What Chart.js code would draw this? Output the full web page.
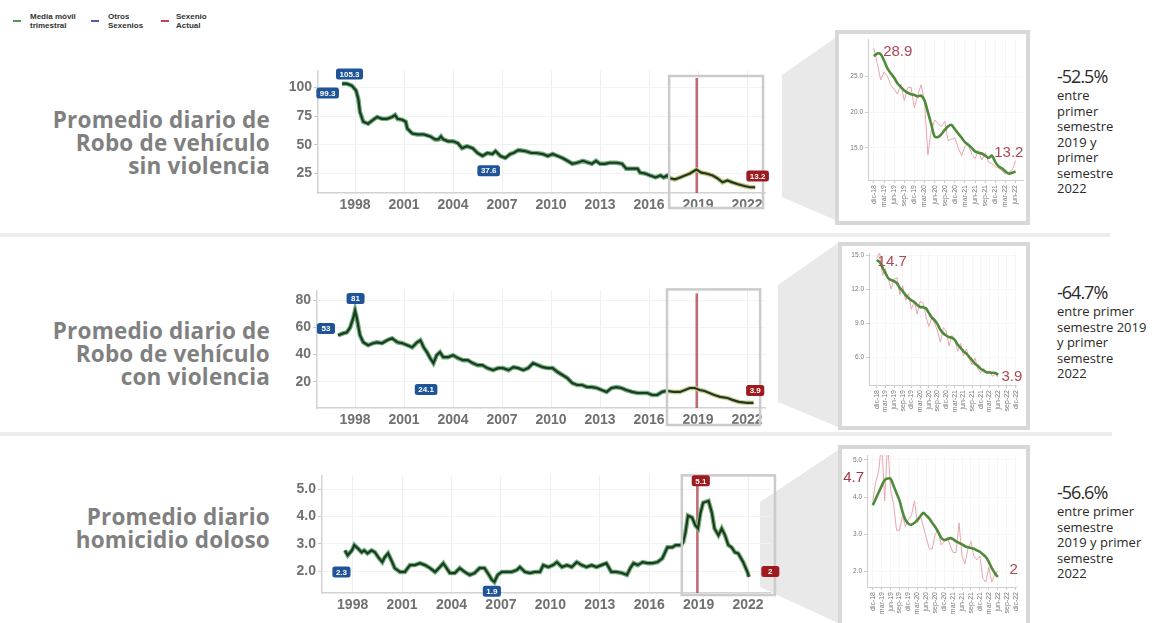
<!DOCTYPE html>
<html lang="es">
<head>
<meta charset="utf-8">
<script src="https://cdn.jsdelivr.net/npm/chart.js@4.4.1/dist/chart.umd.min.js"></script>
<style>
  html, body { margin: 0; padding: 0; background: #fff; }
  body { width: 1158px; height: 623px; position: relative; overflow: hidden; font-family: 'Liberation Sans', Arial, sans-serif; }
  .abs { position: absolute; }
  canvas { position: absolute; }
  .titulo { left: 0; width: 270px; text-align: right; font-family: 'Open Sans', sans-serif; font-weight: 700; font-size: 22.5px; line-height: 23px; color: #808080; letter-spacing: 0.2px; }
  .pct { left: 1057px; font-family: 'Open Sans', sans-serif; color: #2a2a2a; }
  .pct .num { font-size: 18px; line-height: 20px; letter-spacing: -1px; margin-bottom: 2px; }
  .pct .txt { font-size: 13px; line-height: 15.5px; }
  .sep { left: 0; height: 4px; background: #ececec; }
  .marco { border: 4px solid #d8d8d8; background: #fff; box-sizing: border-box; }
  .leyenda { top: 12px; left: 10px; font-size: 8px; font-weight: 700; line-height: 9px; color: #333; }
  .leyenda span.item { position: absolute; white-space: nowrap; }
  .leyenda i { position: absolute; width: 8px; height: 2px; top: 8px; }
</style>
</head>
<body>

<svg class="abs" style="left:0;top:0" width="1158" height="623">
  <polygon points="782,75 835,38 835,220 782,197" fill="#e9e9e9"/>
  <polygon points="778,285 838,243 838,427 778,402" fill="#e9e9e9"/>
  <polygon points="760,502 838,450 838,623 760,587" fill="#e9e9e9"/>
</svg>

<div class="abs sep" style="top:233px;width:1110px"></div>
<div class="abs sep" style="top:432px;width:1112px"></div>

<div class="abs leyenda">
  <span class="item" style="left:0"><i style="left:3px;background:#4c9a55"></i><span style="position:absolute;left:20px;top:0">Media móvil<br>trimestral</span></span>
  <span class="item" style="left:78px"><i style="left:3px;background:#4a5fb0"></i><span style="position:absolute;left:20px;top:0">Otros<br>Sexenios</span></span>
  <span class="item" style="left:148px"><i style="left:3px;background:#c0464f"></i><span style="position:absolute;left:18px;top:0">Sexenio<br>Actual</span></span>
</div>

<div class="abs titulo" style="top:108px">Promedio diario de<br>Robo de vehículo<br>sin violencia</div>
<div class="abs titulo" style="top:319px">Promedio diario de<br>Robo de vehículo<br>con violencia</div>
<div class="abs titulo" style="top:505px">Promedio diario<br>homicidio doloso</div>

<div class="abs pct" style="top:66px"><div class="num">-52.5%</div><div class="txt">entre<br>primer<br>semestre<br>2019 y<br>primer<br>semestre<br>2022</div></div>
<div class="abs pct" style="top:282px"><div class="num">-64.7%</div><div class="txt">entre primer<br>semestre 2019<br>y primer<br>semestre<br>2022</div></div>
<div class="abs pct" style="top:482px"><div class="num">-56.6%</div><div class="txt">entre primer<br>semestre<br>2019 y primer<br>semestre<br>2022</div></div>

<div class="abs marco" style="left:835px;top:30px;width:195px;height:195px"></div>
<div class="abs marco" style="left:838px;top:242px;width:192px;height:188px"></div>
<div class="abs marco" style="left:838px;top:445px;width:192px;height:200px"></div>

<canvas id="main1" style="left:270px;top:60px" width="500" height="160"></canvas>
<canvas id="main2" style="left:270px;top:280px" width="500" height="150"></canvas>
<canvas id="main3" style="left:270px;top:465px" width="520" height="155"></canvas>

<canvas id="zoom1" style="left:839px;top:34px" width="187" height="187"></canvas>
<canvas id="zoom2" style="left:842px;top:246px" width="184" height="180"></canvas>
<canvas id="zoom3" style="left:842px;top:449px" width="184" height="174"></canvas>

<script>
(() => {
  'use strict'

  // --- ejes ---
  const aniosEje = [1998, 2001, 2004, 2007, 2010, 2013, 2016, 2019, 2022];
  const yEje1 = [25, 50, 75, 100];
  const yEje2 = [20, 40, 60, 80];
  const yEje3 = [2, 3, 4, 5];
  const mesesEje = ['dic-18', 'mar-19', 'jun-19', 'sep-19', 'dic-19', 'mar-20', 'jun-20', 'sep-20',
    'dic-20', 'mar-21', 'jun-21', 'sep-21', 'dic-21', 'mar-22', 'jun-22', 'sep-22', 'dic-22'];
  const yZoom1 = [15, 20, 25];
  const yZoom2 = [6, 9, 12, 15];
  const yZoom3 = [2, 3, 4, 5];

  const inicioSexenio = 2018.92;

  // --- media movil trimestral, [año, valor] ---
  const roboSinViolencia = [[1997.2,103.4],[1997.5,103.4],[1997.8,101.7],[1998.06,97.4],[1998.2,89.8],[1998.3,78.7],[1998.5,70.2],[1998.8,68.5],[1999.1,71.9],[1999.35,74.4],[1999.65,72.7],[1999.96,72.7],[2000.27,74.4],[2000.45,76.1],[2000.6,72.7],[2000.9,71.9],[2001.1,70.2],[2001.2,64.2],[2001.5,59.9],[2001.8,59.1],[2002.2,59.1],[2002.6,57.4],[2002.9,54.8],[2003.1,54.8],[2003.26,57.4],[2003.4,54.8],[2003.7,53.1],[2004.0,53.1],[2004.3,51.4],[2004.55,47.1],[2004.85,48.8],[2005.2,47.1],[2005.5,42.9],[2005.8,40.3],[2006.1,42.9],[2006.4,42.0],[2006.6,44.6],[2006.9,40.3],[2007.2,38.6],[2007.5,42.0],[2007.7,42.9],[2008.0,45.4],[2008.4,44.6],[2008.8,42.9],[2009.1,42.9],[2009.5,42.0],[2009.8,40.3],[2010.1,42.0],[2010.4,40.3],[2010.7,38.6],[2011.0,36.1],[2011.3,33.5],[2011.6,34.4],[2011.95,36.1],[2012.3,34.4],[2012.5,33.5],[2012.75,36.1],[2013.0,33.5],[2013.3,33.5],[2013.6,34.4],[2014.0,34.4],[2014.35,33.5],[2014.6,29.2],[2014.96,29.2],[2015.3,29.2],[2015.45,25.8],[2015.76,25.0],[2016.06,23.3],[2016.4,21.6],[2016.7,23.3],[2016.9,21.6],[2017.1,23.3],[2017.3,20.7],[2017.6,19.9],[2017.9,21.6],[2018.2,23.3],[2018.5,25.0],[2018.9,28.4],[2019.2,25.8],[2019.5,25.0],[2019.9,23.3],[2020.2,20.7],[2020.5,17.3],[2020.8,19.0],[2021.1,17.3],[2021.45,15.6],[2021.9,13.9],[2022.2,13.0],[2022.5,13.0]];

  const roboConViolencia = [[1996.96,54.3],[1997.27,55.7],[1997.5,56.5],[1997.7,60.1],[1997.9,67.5],[1998.0,72.6],[1998.1,67.5],[1998.3,54.3],[1998.5,49.1],[1998.8,46.9],[1999.1,48.4],[1999.35,49.1],[1999.65,48.4],[1999.96,50.6],[2000.27,52.1],[2000.6,49.1],[2000.9,48.4],[2001.2,46.9],[2001.5,45.4],[2001.8,49.1],[2002.0,50.6],[2002.2,45.4],[2002.4,41.8],[2002.6,37.4],[2002.8,33.7],[2003.0,39.6],[2003.2,41.8],[2003.4,38.1],[2003.7,38.1],[2004.0,39.6],[2004.3,37.4],[2004.6,35.9],[2004.9,35.9],[2005.2,33.7],[2005.5,32.2],[2005.8,32.2],[2006.1,30.0],[2006.45,28.5],[2006.76,30.0],[2007.06,30.0],[2007.4,28.5],[2007.7,30.7],[2008.0,30.0],[2008.3,28.5],[2008.6,30.0],[2008.9,33.7],[2009.2,32.2],[2009.5,30.7],[2009.8,30.0],[2010.1,30.0],[2010.4,27.1],[2010.7,24.9],[2011.0,22.6],[2011.3,19.0],[2011.6,17.5],[2011.9,17.5],[2012.2,16.0],[2012.5,16.0],[2012.8,15.3],[2013.1,13.8],[2013.4,12.4],[2013.7,15.3],[2014.0,16.0],[2014.3,15.3],[2014.6,13.8],[2014.96,12.4],[2015.3,11.6],[2015.6,11.6],[2015.9,11.6],[2016.2,10.1],[2016.5,10.1],[2016.8,12.4],[2017.1,13.1],[2017.5,12.4],[2017.9,12.4],[2018.2,13.8],[2018.5,15.3],[2018.8,15.3],[2019.1,13.8],[2019.4,13.1],[2019.7,11.6],[2020.0,10.1],[2020.35,8.7],[2020.8,7.9],[2021.1,6.5],[2021.5,5.0],[2022.0,4.3],[2022.4,4.3]];

  const homicidioDoloso = [[1997.53,2.76],[1997.7,2.58],[1997.96,2.76],[1998.1,2.95],[1998.3,2.84],[1998.55,2.69],[1998.7,2.76],[1998.9,2.65],[1999.15,2.76],[1999.35,2.69],[1999.55,2.51],[1999.8,2.33],[1999.95,2.51],[2000.15,2.65],[2000.4,2.33],[2000.55,2.11],[2000.87,1.97],[2001.17,1.97],[2001.48,2.22],[2001.78,2.22],[2002.08,2.29],[2002.39,2.22],[2002.7,2.11],[2003.0,1.97],[2003.3,2.15],[2003.5,2.29],[2003.7,2.11],[2003.9,1.93],[2004.2,1.93],[2004.5,2.11],[2004.8,1.97],[2005.1,1.86],[2005.4,1.93],[2005.7,2.11],[2006.0,2.11],[2006.2,1.93],[2006.45,1.68],[2006.6,1.6],[2006.8,1.86],[2007.05,1.97],[2007.35,1.97],[2007.65,1.97],[2007.96,2.04],[2008.15,2.15],[2008.46,1.97],[2008.76,1.93],[2009.06,1.97],[2009.37,1.97],[2009.57,2.22],[2009.87,2.15],[2010.17,2.22],[2010.4,2.33],[2010.7,2.15],[2011.0,2.22],[2011.3,2.15],[2011.6,2.33],[2011.9,2.22],[2012.2,2.15],[2012.5,2.22],[2012.8,2.15],[2013.1,2.22],[2013.4,2.29],[2013.7,1.97],[2014.0,1.97],[2014.35,1.93],[2014.65,1.86],[2014.85,2.11],[2015.05,2.29],[2015.3,2.22],[2015.6,2.33],[2015.9,2.29],[2016.2,2.29],[2016.5,2.33],[2016.8,2.47],[2017.1,2.87],[2017.4,2.87],[2017.6,2.95],[2017.9,2.95],[2018.05,3.02],[2018.2,3.42],[2018.35,4.03],[2018.6,3.96],[2018.8,3.67],[2018.96,3.56],[2019.1,4.1],[2019.27,4.5],[2019.6,4.57],[2019.8,4.14],[2019.96,3.56],[2020.2,3.31],[2020.4,3.56],[2020.6,3.31],[2020.8,2.95],[2021.0,2.87],[2021.2,2.69],[2021.4,2.65],[2021.7,2.33],[2021.96,1.97],[2022.05,1.79]];

  // --- acercamiento sexenio actual, mensual desde dic-18 ---
  const zoomSinViolenciaMedia = [27.8,28.2,28.1,27.2,26.1,25.4,24.8,24.0,23.5,23.0,22.7,22.5,22.4,22.2,22.3,21.6,20.0,18.3,16.6,16.5,16.9,17.5,18.0,18.2,17.6,17.0,16.4,15.8,15.4,15.0,14.5,14.3,14.2,13.9,13.6,13.9,13.0,12.4,12.1,11.7,11.4,11.5,11.7];
  const zoomSinViolenciaMes = [28.9,26.8,24.5,25.6,25.0,23.8,23.2,22.5,23.9,21.6,23.4,23.5,20.6,22.4,23.8,21.5,14.0,17.4,18.9,18.4,18.0,18.7,16.0,16.2,16.4,15.0,13.9,15.2,15.6,14.1,13.5,14.6,13.3,14.3,13.0,12.8,12.4,12.1,11.8,11.3,11.6,11.9,13.2];

  const zoomConViolenciaMedia = [14.56,14.38,13.9,13.4,12.95,12.8,12.7,12.5,12.1,11.8,11.47,11.2,11.0,10.85,10.6,10.41,10.4,10.3,9.9,9.5,9.26,8.9,8.4,8.1,7.9,7.76,7.7,7.5,7.1,6.8,6.5,6.3,6.0,5.7,5.4,5.2,4.95,4.8,4.66,4.63,4.61,4.59,4.45];
  const zoomConViolenciaMes = [14.7,15.2,13.2,13.8,12.9,12.0,12.9,13.0,11.5,12.3,11.0,11.6,10.2,10.9,9.8,10.9,10.8,9.6,8.7,9.4,9.0,8.3,7.3,8.6,8.3,7.0,7.9,7.6,6.5,7.2,6.1,6.7,5.8,5.3,5.9,4.9,4.6,5.0,4.5,4.8,4.3,4.5,4.2];

  const zoomHomicidioMedia = [3.78,3.95,4.13,4.3,4.46,4.5,4.49,4.3,4.1,3.9,3.6,3.38,3.28,3.25,3.3,3.38,3.48,3.57,3.5,3.42,3.3,3.19,3.05,2.9,2.84,2.86,2.89,2.86,2.8,2.76,2.72,2.67,2.64,2.62,2.6,2.56,2.52,2.45,2.38,2.25,2.08,1.95,1.84];
  const zoomHomicidioMes = [3.9,4.4,4.7,5.5,3.9,5.5,4.2,3.8,3.1,3.1,3.5,3.2,3.4,3.5,3.9,3.3,3.5,3.2,2.9,2.6,2.6,3.0,3.1,2.7,2.8,2.9,2.7,2.5,2.5,3.3,2.4,2.2,2.6,2.8,2.4,2.3,2.4,1.8,1.7,2.1,1.7,1.9,2.0];

  const AZUL = '#1f5598'
  const ROJO = '#9e1a1e'

  Chart.defaults.font.family = "'Liberation Sans', Arial, sans-serif";
  Chart.defaults.animation = false;

  // cajas de valores, linea roja del sexenio y recuadro de acercamiento
  const decorPlugin = {
    id: 'decor',
    beforeDatasetsDraw(chart, args, opts) {
      if (opts.sexenio == null) return;
      const { ctx, chartArea, scales: { x } } = chart;
      const px = x.getPixelForValue(opts.sexenio);
      ctx.save();
      ctx.strokeStyle = 'rgba(176,70,82,0.8)';
      ctx.lineWidth = 2.5;
      ctx.beginPath();
      ctx.moveTo(px, chartArea.top + opts.sexenioTop);
      ctx.lineTo(px, chartArea.bottom);
      ctx.stroke();
      ctx.restore();
    },
    afterDraw(chart, args, opts) {
      const { ctx, chartArea, scales: { x, y } } = chart;
      ctx.save();
      if (opts.caja) {
        const x0 = x.getPixelForValue(opts.caja.desde);
        const x1 = x.getPixelForValue(opts.caja.hasta);
        const y0 = chartArea.top + opts.caja.arriba;
        const y1 = chartArea.bottom + opts.caja.abajo;
        ctx.strokeStyle = '#cbcbcb';
        ctx.lineWidth = 2.5;
        ctx.strokeRect(x0, y0, x1 - x0, y1 - y0);
      }
      (opts.etiquetas || []).forEach(e => {
        const cx = x.getPixelForValue(e.x);
        const cy = y.getPixelForValue(e.y);
        if (e.caja) {
          ctx.font = 'bold 8px "Liberation Sans", Arial, sans-serif';
          const w = Math.max(ctx.measureText(e.texto).width + 7, 18);
          const h = 11;
          ctx.fillStyle = e.color;
          ctx.beginPath();
          ctx.roundRect(cx - w / 2, cy - h / 2, w, h, 2.5);
          ctx.fill();
          ctx.fillStyle = '#fff';
          ctx.textAlign = 'center';
          ctx.textBaseline = 'middle';
          ctx.fillText(e.texto, cx, cy + 0.5);
        } else {
          ctx.font = '15px "Liberation Sans", Arial, sans-serif';
          ctx.fillStyle = e.color;
          ctx.textAlign = 'center';
          ctx.textBaseline = 'middle';
          ctx.fillText(e.texto, cx, cy);
        }
      });
      ctx.restore();
    }
  };

  function fijarTicks(valores) {
    return scale => { scale.ticks = valores.map(v => ({ value: v })) }
  }

  function graficaPrincipal(id, serie, cfg) {
    const puntos = serie.map(([t, v]) => ({ x: t, y: v }));
    const corte = cfg.caja.desde;
    return new Chart(document.getElementById(id), {
      type: 'line',
      data: {
        datasets: [
          {
            // trazo oscuro, encima
            data: puntos.map(p => ({ ...p })),
            borderColor: '#1b3a22',
            borderWidth: 2.2,
            pointRadius: 0,
            tension: 0,
            order: 1
          },
          {
            // halo verde, debajo
            data: puntos.map(p => ({ ...p })),
            borderColor: '#6fae7a',
            borderWidth: 4.5,
            pointRadius: 0,
            tension: 0,
            order: 2,
            segment: {
              borderColor: c => (c.p0.parsed.x >= corte ? cfg.haloActual : '#6fae7a')
            }
          }
        ]
      },
      options: {
        responsive: false,
        layout: { padding: { top: cfg.padTop, right: cfg.padRight, left: 0, bottom: 0 } },
        plugins: {
          legend: { display: false },
          tooltip: { enabled: false },
          decor: {
            sexenio: inicioSexenio,
            sexenioTop: cfg.sexenioTop,
            caja: cfg.caja,
            etiquetas: cfg.etiquetas
          }
        },
        scales: {
          x: {
            type: 'linear',
            min: cfg.xMin,
            max: cfg.xMax,
            afterBuildTicks: fijarTicks(aniosEje),
            afterFit: s => { s.height = cfg.xAlto },
            ticks: {
              callback: v => String(v),
              color: '#707070',
              font: { size: 14, weight: 'bold' },
              padding: 4,
              maxRotation: 0,
              autoSkip: false
            },
            grid: { color: '#efefef', drawTicks: false },
            border: { color: '#d2d2d2', width: 1.5 }
          },
          y: {
            min: cfg.yMin,
            max: cfg.yMax,
            afterBuildTicks: fijarTicks(cfg.yTicks),
            afterFit: s => { s.width = cfg.yAncho },
            ticks: {
              callback: v => cfg.yFormato(v),
              color: '#707070',
              font: { size: 14, weight: 'bold' },
              padding: 2
            },
            grid: { color: '#f3f3f3', tickLength: 4, tickColor: '#c8c8c8' },
            border: { color: '#d2d2d2', width: 1.5 }
          }
        }
      },
      plugins: [decorPlugin]
    });
  }

  function graficaZoom(id, media, mensual, cfg) {
    const aPuntos = arr => arr.map((v, i) => ({ x: i, y: v }));
    return new Chart(document.getElementById(id), {
      type: 'line',
      data: {
        datasets: [
          {
            data: aPuntos(media),
            borderColor: '#4f8a3a',
            borderWidth: 2.6,
            pointRadius: 0,
            tension: 0.3,
            order: 1
          },
          {
            data: aPuntos(mensual),
            borderColor: '#e6a7ae',
            borderWidth: 1,
            pointRadius: 0,
            tension: 0,
            order: 2
          }
        ]
      },
      options: {
        responsive: false,
        layout: { padding: { top: cfg.padTop, right: cfg.padRight, left: 0, bottom: 0 } },
        plugins: {
          legend: { display: false },
          tooltip: { enabled: false },
          decor: { etiquetas: cfg.etiquetas }
        },
        scales: {
          x: {
            type: 'linear',
            min: cfg.xMin,
            max: cfg.xMax,
            afterBuildTicks: s => {
              s.ticks = mesesEje.map((m, k) => ({ value: k * 3 })).filter(t => t.value <= cfg.xMax)
            },
            afterFit: s => { s.height = cfg.xAlto },
            ticks: {
              callback: v => mesesEje[v / 3],
              color: '#777',
              font: { size: 7 },
              minRotation: 90,
              maxRotation: 90,
              autoSkip: false,
              padding: 2
            },
            grid: { color: '#f6f6f6', drawTicks: true, tickLength: 3, tickColor: '#ccc' },
            border: { color: '#cfcfcf' }
          },
          y: {
            min: cfg.yMin,
            max: cfg.yMax,
            afterBuildTicks: fijarTicks(cfg.yTicks),
            afterFit: s => { s.width = cfg.yAncho },
            ticks: {
              callback: v => v.toFixed(1),
              color: '#777',
              font: { size: 6.5 },
              padding: 2
            },
            grid: { color: '#f6f6f6', tickLength: 3, tickColor: '#ccc' },
            border: { color: '#cfcfcf' }
          }
        }
      },
      plugins: [decorPlugin]
    });
  }

  graficaPrincipal('main1', roboSinViolencia, {
    xMin: 1995.73, xMax: 2023.1, yMin: 8, yMax: 115,
    yTicks: yEje1, yFormato: v => String(v),
    yAncho: 48, xAlto: 27, padTop: 7.4, padRight: 5,
    sexenioTop: 7.6,
    haloActual: '#c7c27c',
    caja: { desde: 2017.23, hasta: 2022.98, arriba: 5.6, abajo: 15 },
    etiquetas: [
      { texto: '105.3', x: 1997.66, y: 111.9, color: AZUL, caja: true },
      { texto: '99.3', x: 1996.32, y: 95.3, color: AZUL, caja: true },
      { texto: '37.6', x: 2006.18, y: 27.5, color: AZUL, caja: true },
      { texto: '13.2', x: 2022.65, y: 22.8, color: ROJO, caja: true }
    ]
  });

  graficaPrincipal('main2', roboConViolencia, {
    xMin: 1995.67, xMax: 2023.1, yMin: 0.5, yMax: 87.5,
    yTicks: yEje2, yFormato: v => String(v),
    yAncho: 47, xAlto: 22, padTop: 9.8, padRight: 5,
    sexenioTop: 3,
    haloActual: '#cfc98a',
    caja: { desde: 2017.1, hasta: 2022.8, arriba: -1, abajo: 17 },
    etiquetas: [
      { texto: '81', x: 1998.03, y: 81.5, color: AZUL, caja: true },
      { texto: '53', x: 1996.22, y: 59.4, color: AZUL, caja: true },
      { texto: '24.1', x: 2002.35, y: 14.2, color: AZUL, caja: true },
      { texto: '3.9', x: 2022.5, y: 13.5, color: ROJO, caja: true }
    ]
  });

  graficaPrincipal('main3', homicidioDoloso, {
    xMin: 1996.14, xMax: 2023.33, yMin: 1.2, yMax: 5.5,
    yTicks: yEje3, yFormato: v => v.toFixed(1),
    yAncho: 52, xAlto: 27, padTop: 9.5, padRight: 20,
    sexenioTop: 5.5,
    haloActual: '#7fb37a',
    caja: { desde: 2017.98, hasta: 2023.63, arriba: 0, abajo: 2 },
    etiquetas: [
      { texto: '2.3', x: 1997.32, y: 1.97, color: AZUL, caja: true },
      { texto: '1.9', x: 2006.45, y: 1.26, color: AZUL, caja: true },
      { texto: '5.1', x: 2019.13, y: 5.3, color: ROJO, caja: true },
      { texto: '2', x: 2023.35, y: 1.99, color: ROJO, caja: true }
    ]
  });

  graficaZoom('zoom1', zoomSinViolenciaMedia, zoomSinViolenciaMes, {
    xMin: -1.76, xMax: 44.4, yMin: 10.5, yMax: 30.09,
    yTicks: yZoom1, yAncho: 29, xAlto: 41, padTop: 1, padRight: 1,
    etiquetas: [
      { texto: '28.9', x: 7.06, y: 28.47, color: '#ad4754' },
      { texto: '13.2', x: 40, y: 14.28, color: '#ad4754' }
    ]
  });

  graficaZoom('zoom2', zoomConViolenciaMedia, zoomConViolenciaMes, {
    xMin: -2.67, xMax: 48.33, yMin: 3.53, yMax: 15.18,
    yTicks: yZoom2, yAncho: 27, xAlto: 41, padTop: 7, padRight: 4,
    etiquetas: [
      { texto: '14.7', x: 5.33, y: 14.38, color: '#ad4754' },
      { texto: '3.9', x: 46.7, y: 4.23, color: '#ad4754' }
    ]
  });

  graficaZoom('zoom3', zoomHomicidioMedia, zoomHomicidioMes, {
    xMin: -1.94, xMax: 48.4, yMin: 1.568, yMax: 5.135,
    yTicks: yZoom3, yAncho: 25, xAlto: 36, padTop: 6, padRight: 3,
    etiquetas: [
      { texto: '4.7', x: -6.45, y: 4.51, color: '#a33644' },
      { texto: '2', x: 47.4, y: 2.03, color: '#ad4754' }
    ]
  });

})()
</script>
</body>
</html>
